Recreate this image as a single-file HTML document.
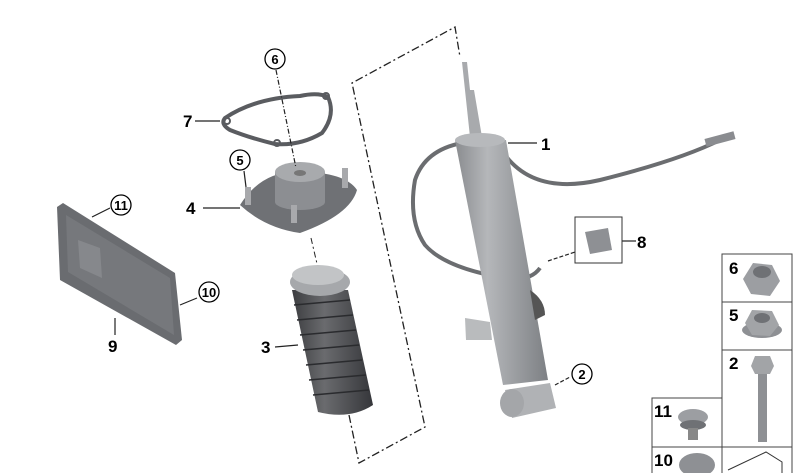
<!DOCTYPE html>
<html><head><style>
html,body{margin:0;padding:0;background:#fff;width:800px;height:473px;overflow:hidden}
svg{display:block}
text{font-family:"Liberation Sans",sans-serif;font-weight:bold;fill:#000}
</style></head><body>
<svg width="800" height="473" viewBox="0 0 800 473">
<defs>
<linearGradient id="cyl" x1="0" x2="1" y1="0" y2="0">
<stop offset="0" stop-color="#8a8c8f"/><stop offset="0.35" stop-color="#b5b7ba"/><stop offset="1" stop-color="#7d8084"/>
</linearGradient>
<linearGradient id="boot" x1="0" x2="1"><stop offset="0" stop-color="#3c3d40"/><stop offset="0.4" stop-color="#6a6b6e"/><stop offset="1" stop-color="#35363a"/></linearGradient>
</defs>
<!-- dash-dot outline -->
<polyline points="349,415 359,463 425,427 352,83 455,27 460,57" fill="none" stroke="#222" stroke-width="1.3" stroke-dasharray="8,3,2,3"/>
<line x1="311" y1="238" x2="318" y2="268" stroke="#222" stroke-width="1" stroke-dasharray="6,3,2,3"/>

<!-- gasket 7 -->
<path d="M225,118 Q255,98 300,96 Q318,92 328,97 Q336,115 322,133 Q300,146 275,144 Q250,138 230,130 Q220,124 225,118 Z" fill="none" stroke="#5a5c60" stroke-width="4"/>
<circle cx="227" cy="121" r="3" fill="none" stroke="#5a5c60" stroke-width="2"/>
<circle cx="326" cy="96" r="3" fill="none" stroke="#5a5c60" stroke-width="2"/>
<circle cx="277" cy="143" r="3" fill="none" stroke="#5a5c60" stroke-width="2"/>
<!-- mount 4 -->
<path d="M240,205 Q262,170 300,172 Q345,172 357,190 Q350,215 300,233 Q265,228 240,205 Z" fill="#6f7175"/>
<rect x="275" y="172" width="50" height="30" fill="#8c8e92"/>
<ellipse cx="300" cy="202" rx="25" ry="8" fill="#8c8e92"/>
<ellipse cx="300" cy="172" rx="25" ry="10" fill="#a8aaad"/>
<ellipse cx="300" cy="173" rx="6" ry="3" fill="#777"/>
<rect x="245" y="187" width="6" height="18" fill="#a8a9ac"/><rect x="342" y="168" width="6" height="20" fill="#a8a9ac"/><rect x="291" y="205" width="6" height="18" fill="#a8a9ac"/>
<!-- boot 3 -->
<path d="M292,290 L348,290 L373,405 Q350,420 318,412 Z" fill="url(#boot)"/>
<g stroke="#2a2b2e" stroke-width="1.5">
<line x1="294" y1="305" x2="350" y2="300"/><line x1="297" y1="320" x2="353" y2="315"/><line x1="300" y1="335" x2="356" y2="330"/><line x1="303" y1="350" x2="359" y2="345"/><line x1="306" y1="365" x2="362" y2="360"/><line x1="309" y1="380" x2="366" y2="375"/><line x1="313" y1="395" x2="369" y2="390"/>
</g>
<ellipse cx="320" cy="282" rx="30" ry="14" fill="#a6a8ab"/><ellipse cx="318" cy="275" rx="26" ry="10" fill="#c2c4c6"/>
<!-- plate 9 -->
<path d="M57,207 L63,203 L175,273 L182,340 L176,345 L60,280 Z" fill="#6a6c70"/>
<path d="M66,215 L170,278 L174,335 L68,272 Z" fill="#76787c"/>
<path d="M78,240 L100,248 L102,278 L80,268 Z" fill="#86888c"/>
<!-- shock 1 -->
<path d="M462,143 Q425,150 415,180 Q408,220 425,245 Q445,268 505,278 Q530,282 540,268" fill="none" stroke="#6b6d70" stroke-width="4"/>
<path d="M505,155 Q535,195 600,180 Q680,160 720,140" fill="none" stroke="#6b6d70" stroke-width="4"/>
<rect x="705" y="135" width="30" height="8" fill="#8a8c90" transform="rotate(-15 720 139)"/>
<path d="M462,62 L467,62 L470,90 L474,90 L482,137 L470,137 Z" fill="#a8aaad"/>
<polygon points="455,140 506,140 548,380 503,385" fill="url(#cyl)"/>
<ellipse cx="480" cy="140" rx="25" ry="7" fill="#b7b9bc"/>
<path d="M465,318 L490,322 L492,340 L466,340 Z" fill="#b9bbbd"/>
<path d="M505,390 L550,383 L556,408 L512,418 Z" fill="#b0b2b5"/>
<ellipse cx="512" cy="403" rx="12" ry="14" fill="#a4a6a9"/>
<path d="M530,290 Q545,300 545,315 L535,320 Z" fill="#555"/>
<!-- leaders -->
<g stroke="#222" stroke-width="1.2">
<line x1="195" y1="121" x2="220" y2="121"/>
<line x1="203" y1="208" x2="240" y2="208"/>
<line x1="244" y1="171" x2="246" y2="187"/>
<line x1="275" y1="347" x2="298" y2="345"/>
<line x1="115" y1="318" x2="115" y2="335"/>
<line x1="110" y1="208" x2="92" y2="217"/>
<line x1="197" y1="298" x2="180" y2="305"/>
<line x1="508" y1="143" x2="537" y2="143"/>
<line x1="622" y1="241" x2="636" y2="241"/>
<line x1="548" y1="261" x2="575" y2="252" stroke-dasharray="4,2"/>
<line x1="555" y1="385" x2="570" y2="377" stroke-dasharray="4,2"/>
<line x1="276" y1="70" x2="296" y2="168" stroke-dasharray="5,2,1,2"/>
</g>
<!-- circled labels -->
<g fill="#fff" stroke="#000" stroke-width="1.3">
<circle cx="275" cy="59" r="10"/><circle cx="240" cy="160" r="10"/><circle cx="121" cy="205" r="10"/><circle cx="209" cy="292" r="10"/><circle cx="582" cy="374" r="10"/>
</g>
<g font-size="13" text-anchor="middle">
<text x="275" y="64">6</text><text x="240" y="165">5</text><text x="121" y="210">11</text><text x="209" y="297">10</text><text x="582" y="379">2</text>
</g>
<g font-size="17">
<text x="183" y="127">7</text><text x="186" y="214">4</text><text x="261" y="353">3</text><text x="108" y="352">9</text><text x="541" y="150">1</text><text x="637" y="248">8</text>
</g>
<!-- box 8 -->
<rect x="575" y="217" width="47" height="46" fill="none" stroke="#333"/>
<path d="M585,232 L608,228 L612,250 L590,254 Z" fill="#8e9094"/>
<!-- right table -->
<g fill="none" stroke="#444" stroke-width="1">
<path d="M722,473 L722,254 L792,254 L792,473"/>
<line x1="722" y1="302" x2="792" y2="302"/><line x1="722" y1="350" x2="792" y2="350"/><line x1="652" y1="447" x2="792" y2="447"/>
<path d="M652,473 L652,398 L722,398"/>
</g>
<g font-size="17"><text x="729" y="274">6</text><text x="729" y="321">5</text><text x="729" y="369">2</text><text x="654" y="417">11</text><text x="654" y="466">10</text></g>
<polygon points="753,263 772,265 780,281 770,296 751,294 743,279" fill="#9c9ea2"/><ellipse cx="762" cy="272" rx="9" ry="6" fill="#6f7175"/>
<ellipse cx="762" cy="330" rx="20" ry="8" fill="#8e9094"/><polygon points="752,310 772,311 779,325 770,336 752,335 745,323" fill="#a2a4a7"/><ellipse cx="762" cy="318" rx="8" ry="5" fill="#6f7175"/>
<rect x="758" y="370" width="9" height="72" fill="#8e9094"/><polygon points="755,356 770,356 774,366 770,374 755,374 751,366" fill="#a2a4a7"/>
<ellipse cx="693" cy="417" rx="15" ry="8" fill="#9c9ea2"/><ellipse cx="693" cy="425" rx="13" ry="5" fill="#6f7175"/><rect x="688" y="428" width="10" height="12" fill="#888"/>
<ellipse cx="697" cy="465" rx="18" ry="12" fill="#8e9094"/>
<path d="M728,470 L766,452 L782,462 L782,473" fill="none" stroke="#333"/>
</svg>
</body></html>
